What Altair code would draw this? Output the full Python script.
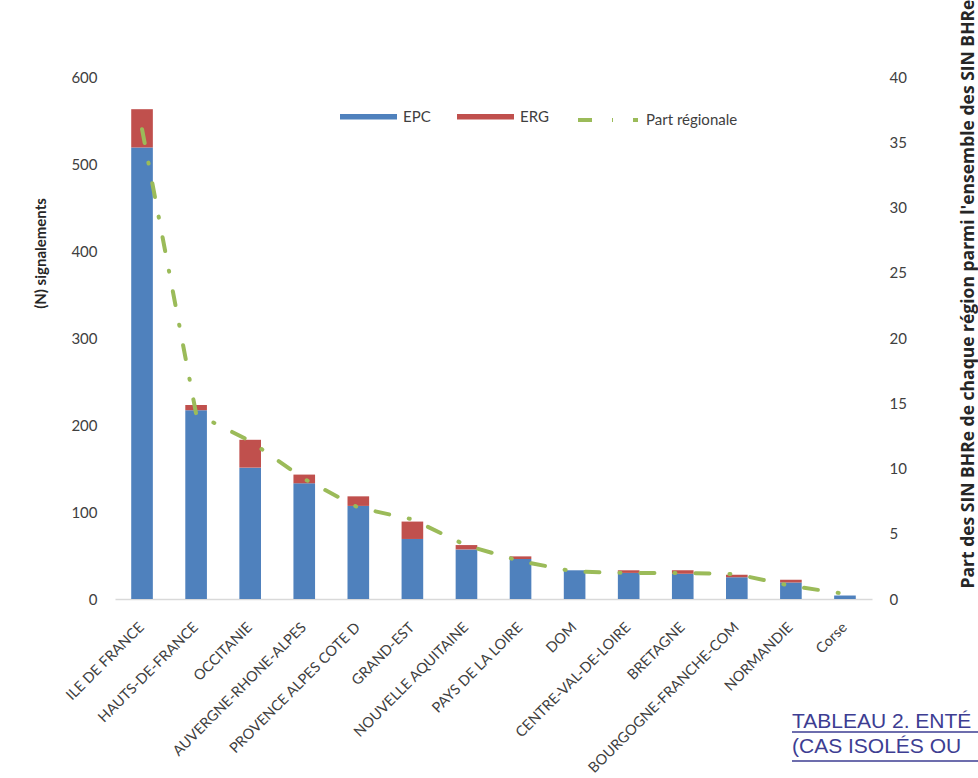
import altair as alt
import pandas as pd

regions = ["ILE DE FRANCE", "HAUTS-DE-FRANCE", "OCCITANIE", "AUVERGNE-RHONE-ALPES",
           "PROVENCE ALPES COTE D", "GRAND-EST", "NOUVELLE AQUITAINE", "PAYS DE LA LOIRE",
           "DOM", "CENTRE-VAL-DE-LOIRE", "BRETAGNE", "BOURGOGNE-FRANCHE-COM",
           "NORMANDIE", "Corse"]
epc = [519, 217, 151, 133, 107, 69, 57, 46, 33, 30, 29, 25, 19, 4]
erg = [44, 6, 32, 10, 11, 20, 5, 3, 0, 3, 4, 3, 3, 0]
part = [36.0, 14.2, 12.1, 9.2, 7.0, 6.1, 4.1, 2.9, 2.1, 2.0, 2.0, 1.9, 1.0, 0.4]

series_bars = ["EPC", "ERG"]
series_line = "Part régionale"
left_ticks = [0, 100, 200, 300, 400, 500, 600]
right_ticks = [0, 5, 10, 15, 20, 25, 30, 35, 40]
caption_text = "TABLEAU 2. ENTÉ\n(CAS ISOLÉS OU"

rows = []
for r, e, g in zip(regions, epc, erg):
    rows.append({"region": r, "serie": "EPC", "n": e, "ordre": 0})
    rows.append({"region": r, "serie": "ERG", "n": g, "ordre": 1})
bars_df = pd.DataFrame(rows)
line_df = pd.DataFrame({"region": regions, "part": part, "serie": [series_line] * len(regions)})

FONT = "Lato"
LABEL = "#404040"
TITLE = "#262626"
GREEN = "#9BBB59"
CAPC = "#3D3D92"

x_enc = alt.X(
    "region:N", sort=regions, title=None,
    scale=alt.Scale(paddingInner=0.6, paddingOuter=0.3),
    axis=alt.Axis(labelAngle=315, labelAlign="right", labelBaseline="middle",
                  labelPadding=26, ticks=False, domainColor="#D9D9D9", domainWidth=1.5,
                  labelFontSize=14.5, labelColor=LABEL, labelFont=FONT, labelLimit=400,
                  grid=False),
)

bars = alt.Chart(bars_df).mark_bar().encode(
    x=x_enc,
    y=alt.Y("n:Q", stack="zero", scale=alt.Scale(domain=[0, 600]),
            axis=alt.Axis(values=left_ticks, title="(N) signalements", grid=False,
                          domain=False, ticks=False, labelPadding=18,
                          labelFontSize=15, labelColor=LABEL, labelFont=FONT,
                          titleFont=FONT, titleFontSize=15, titleFontWeight="bold",
                          titleColor=TITLE, titleAngle=270, titleX=-75, titleY=176,
                          titleAlign="center", titleBaseline="middle")),
    color=alt.Color("serie:N", scale=alt.Scale(domain=series_bars, range=["#4F81BD", "#C0504D"]),
                    legend=alt.Legend(orient="none", legendX=225, legendY=11,
                                      direction="horizontal", title=None,
                                      symbolType="M-1,-0.1H1V0.1H-1Z", symbolSize=3249,
                                      symbolStrokeWidth=0, labelFontSize=15, labelFont=FONT,
                                      labelColor=LABEL, columnPadding=26, labelOffset=6)),
    order=alt.Order("ordre:Q"),
)

line = alt.Chart(line_df).mark_line(color=GREEN, strokeWidth=4, strokeCap="round").encode(
    x=alt.X("region:N", sort=regions),
    y=alt.Y("part:Q", scale=alt.Scale(domain=[0, 40]),
            axis=alt.Axis(orient="right", values=right_ticks, grid=False, domain=False,
                          ticks=False, labelPadding=17, labelFontSize=15, labelColor=LABEL,
                          labelFont=FONT,
                          title="Part des SIN BHRe de chaque région parmi l'ensemble des SIN BHRe",
                          titleFont="Open Sans", titleFontSize=17.5, titleFontWeight="bold",
                          titleColor=TITLE, titleAngle=270, titleX=96, titleY=511,
                          titleAlign="left", titleBaseline="middle", titleLimit=2000)),
    strokeDash=alt.StrokeDash("serie:N",
                              scale=alt.Scale(domain=[series_line], range=[[14, 20, 1, 20]]),
                              legend=alt.Legend(orient="none", legendX=461, legendY=11,
                                                title=None, symbolType="stroke",
                                                symbolSize=3600, symbolStrokeWidth=4,
                                                symbolStrokeColor=GREEN, labelFontSize=15,
                                                labelFont=FONT, labelColor=LABEL,
                                                labelOffset=6)),
)

cap_df = pd.DataFrame({"t": [caption_text]})
caption = alt.Chart(cap_df).mark_text(
    align="left", baseline="alphabetic", font="Liberation Sans", fontSize=21,
    color=CAPC, lineBreak="\n", lineHeight=25,
).encode(x=alt.value(677), y=alt.value(651), text="t:N")

u_df = pd.DataFrame({"k": [0]})
under1 = alt.Chart(u_df).mark_rule(color=CAPC, strokeWidth=1.5).encode(
    x=alt.value(677), x2=alt.value(863), y=alt.value(655))
under2 = alt.Chart(u_df).mark_rule(color=CAPC, strokeWidth=1.5).encode(
    x=alt.value(677), x2=alt.value(863), y=alt.value(684))

chart = alt.layer(bars, line, caption, under1, under2).resolve_scale(
    y="independent"
).properties(
    width=757, height=522,
    background="white",
    autosize=alt.AutoSizeParams(type="none"),
    padding={"left": 115, "top": 77, "right": 106, "bottom": 179},
).configure_view(stroke="transparent", strokeWidth=0)

chart.save("out.html", embed_options={"renderer": "svg", "actions": False})
